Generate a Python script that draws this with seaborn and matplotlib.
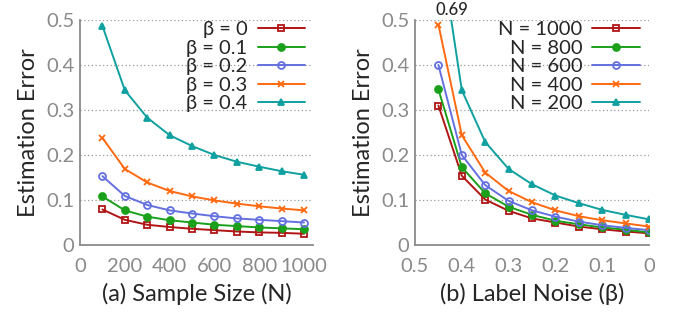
import matplotlib
matplotlib.use("Agg")
import matplotlib.pyplot as plt
import seaborn as sns
import pandas as pd
from matplotlib.ticker import MultipleLocator, FuncFormatter

sns.set_style("white")
plt.rcParams['font.family'] = ['Lato', 'DejaVu Sans']

# (a) error vs sample size, one line per noise level
sample_sizes = [100, 200, 300, 400, 500, 600, 700, 800, 900, 1000]
beta_labels = ["β = 0", "β = 0.1", "β = 0.2", "β = 0.3", "β = 0.4"]
err_beta_0 = [0.079, 0.056, 0.045, 0.040, 0.036, 0.033, 0.030, 0.028, 0.027, 0.025]
err_beta_01 = [0.108, 0.077, 0.063, 0.055, 0.050, 0.045, 0.042, 0.039, 0.037, 0.035]
err_beta_02 = [0.153, 0.109, 0.089, 0.077, 0.070, 0.064, 0.059, 0.056, 0.053, 0.050]
err_beta_03 = [0.238, 0.169, 0.139, 0.120, 0.108, 0.099, 0.092, 0.086, 0.081, 0.077]
err_beta_04 = [0.487, 0.344, 0.283, 0.244, 0.220, 0.200, 0.185, 0.174, 0.164, 0.156]

# (b) error vs label noise, one line per sample size
noise_levels = [0.45, 0.4, 0.35, 0.3, 0.25, 0.2, 0.15, 0.1, 0.05, 0.0]
n_labels = ["N = 1000", "N = 800", "N = 600", "N = 400", "N = 200"]
err_n_1000 = [0.310, 0.154, 0.101, 0.076, 0.059, 0.050, 0.041, 0.035, 0.030, 0.026]
err_n_800 = [0.346, 0.173, 0.115, 0.085, 0.067, 0.054, 0.046, 0.039, 0.034, 0.028]
err_n_600 = [0.400, 0.200, 0.133, 0.098, 0.077, 0.063, 0.052, 0.044, 0.038, 0.033]
err_n_400 = [0.490, 0.244, 0.161, 0.120, 0.095, 0.077, 0.064, 0.055, 0.048, 0.041]
err_n_200 = [0.690, 0.344, 0.229, 0.169, 0.135, 0.110, 0.093, 0.078, 0.067, 0.057]

colors = ["#b01515", "#1aa01a", "#6470e0", "#ff6a10", "#10a0a0"]
markers = ["s", "o", "o", "x", "^"]
filled = [False, True, False, False, True]
gray = "#8a8a8a"

fig = plt.figure(figsize=(6.78, 3.2), dpi=100)
ax1 = fig.add_axes([80 / 678, 75 / 320, 233 / 678, 225 / 320])
ax2 = fig.add_axes([415 / 678, 75 / 320, 234 / 678, 225 / 320])


def draw(ax, x, series, labels):
    for i, (ys, lab) in enumerate(zip(series, labels)):
        df = pd.DataFrame({"x": x, "y": ys})
        mfc = colors[i] if filled[i] else "none"
        sns.lineplot(data=df, x="x", y="y", ax=ax, color=colors[i], label=lab,
                     marker=markers[i], markersize=5, markerfacecolor=mfc,
                     markeredgecolor=colors[i], markeredgewidth=1.3,
                     linewidth=1.4, sort=False)


draw(ax1, sample_sizes, [err_beta_0, err_beta_01, err_beta_02, err_beta_03, err_beta_04], beta_labels)
draw(ax2, noise_levels, [err_n_1000, err_n_800, err_n_600, err_n_400, err_n_200], n_labels)

fmt = FuncFormatter(lambda v, p: f"{v:g}")
for ax, anchor_x in ((ax1, 1.0), (ax2, 0.995)):
    ax.set_ylim(0, 0.5)
    ax.yaxis.set_major_locator(MultipleLocator(0.1))
    ax.yaxis.set_major_formatter(fmt)
    for s in ("top", "right"):
        ax.spines[s].set_visible(False)
    for s in ("left", "bottom"):
        ax.spines[s].set_color(gray)
        ax.spines[s].set_linewidth(1.3)
    ax.grid(axis="y", linestyle=(0, (1, 2)), color="#999999", linewidth=0.9)
    ax.tick_params(direction="in", which="major", length=6, width=1.1, color=gray,
                   labelcolor=gray, labelsize=14.5)
    ax.tick_params(axis="x", which="major", pad=9)
    ax.tick_params(axis="y", which="major", pad=4)
    ax.tick_params(direction="in", which="minor", length=3.5, width=1.1, color=gray)
    ax.set_ylabel("Estimation Error", fontsize=17, labelpad=5)
    leg = ax.legend(loc="upper right", bbox_to_anchor=(anchor_x, 1.03), frameon=False,
                    markerfirst=False, fontsize=14.5, handlelength=2.35,
                    labelspacing=0.07, handletextpad=0.5, borderaxespad=0)
    for t in leg.get_texts():
        t.set_ha("right")

ax1.set_xlim(0, 1040)
ax1.xaxis.set_major_locator(MultipleLocator(200))
ax1.xaxis.set_minor_locator(MultipleLocator(100))
ax1.xaxis.set_major_formatter(fmt)
ax1.set_xlabel("(a) Sample Size (N)", fontsize=17, labelpad=6)

ax2.set_xlim(0.5, 0)
ax2.xaxis.set_major_locator(MultipleLocator(0.1))
ax2.xaxis.set_minor_locator(MultipleLocator(0.05))
ax2.xaxis.set_major_formatter(fmt)
ax2.set_xlabel("(b) Label Noise (β)", fontsize=17, labelpad=6)
# the N = 200 line leaves the plot at beta = 0.45, so its value is written above
ax2.annotate(f"{err_n_200[0]:.2f}", xy=(0.421, 0.522), ha="center", va="center",
             fontsize=12, fontweight="medium", annotation_clip=False)

fig.savefig("out.png", dpi=100)
